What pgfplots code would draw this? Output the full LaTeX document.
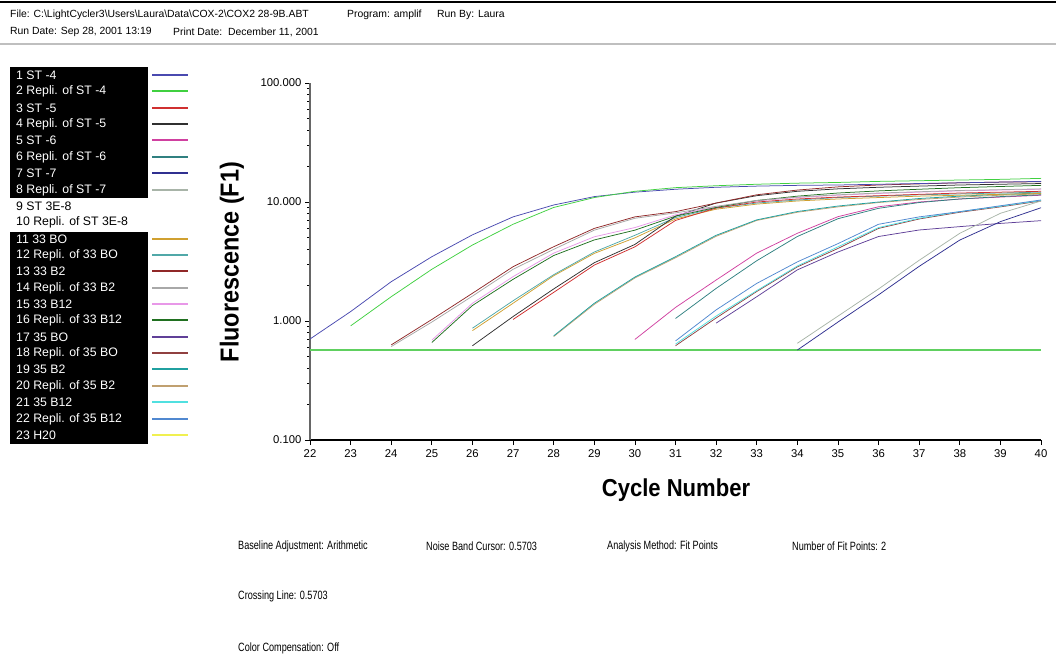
\documentclass[border=0pt]{standalone}
\usepackage{pgfplots}
\pgfplotsset{compat=1.18}
\usepackage{fontspec}
\setmainfont{Liberation Sans}
\newfontfamily\narrowfont[FakeStretch=0.76]{Liberation Sans}
\newfontfamily\labelfont[FakeStretch=0.9]{Liberation Sans}

% run colours
\definecolor{runA}{HTML}{4A4AB0}
\definecolor{runB}{HTML}{40D040}
\definecolor{runC}{HTML}{D03030}
\definecolor{runD}{HTML}{303030}
\definecolor{runE}{HTML}{D040A0}
\definecolor{runF}{HTML}{308080}
\definecolor{runG}{HTML}{303090}
\definecolor{runH}{HTML}{A8B4A8}
\definecolor{runK}{HTML}{D0A030}
\definecolor{runL}{HTML}{50A8A8}
\definecolor{runM}{HTML}{902828}
\definecolor{runN}{HTML}{A8A8A8}
\definecolor{runO}{HTML}{E898E8}
\definecolor{runP}{HTML}{207020}
\definecolor{runQ}{HTML}{604098}
\definecolor{runR}{HTML}{904040}
\definecolor{runS}{HTML}{20A0A0}
\definecolor{runT}{HTML}{C0A070}
\definecolor{runU}{HTML}{50E0E0}
\definecolor{runV}{HTML}{5088D0}
\definecolor{runW}{HTML}{F0F050}
\definecolor{runThr}{HTML}{60D060}

% legend row: vertical position, label, line colour
\newcommand{\legitem}[3]{%
  \node[anchor=west,inner sep=0pt,text=white,font=\fontsize{12.3}{14}\selectfont] at (16,#1) {#2};
  \fill[fill=#3] (152,#1-1) rectangle (188,#1+1);}
\newcommand{\legplain}[2]{%
  \node[anchor=west,inner sep=0pt,font=\fontsize{12.3}{14}\selectfont] at (16,#1) {#2};}

\begin{document}
\begin{tikzpicture}
\begin{scope}[x=1pt,y=-1pt]
  \path[use as bounding box] (0,0) rectangle (1056,657);
  % header
  \draw[black,line width=2.5pt] (0,2) -- (1056,2);
  \draw[black!25,line width=1.5pt] (0,44) -- (1056,44);
  \begin{scope}[every node/.style={anchor=west,inner sep=0pt,font=\fontsize{10.4}{12}\selectfont}]
    \node at (10,15) {File: C:\textbackslash LightCycler3\textbackslash Users\textbackslash Laura\textbackslash Data\textbackslash COX-2\textbackslash COX2 28-9B.ABT};
    \node at (347,15) {Program: amplif};
    \node at (437,15) {Run By: Laura};
    \node at (10,32) {Run Date: Sep 28, 2001 13:19};
    \node at (173,32) {Print Date:\ \ December 11, 2001};
  \end{scope}
  % legend
  \fill[black] (10,67) rectangle (148,198);
  \fill[black] (10,232) rectangle (148,444);
  \legitem{75}{1 ST -4}{runA}
  \legitem{91}{2 Repli. of ST -4}{runB}
  \legitem{108}{3 ST -5}{runC}
  \legitem{124}{4 Repli. of ST -5}{runD}
  \legitem{140}{5 ST -6}{runE}
  \legitem{157}{6 Repli. of ST -6}{runF}
  \legitem{173}{7 ST -7}{runG}
  \legitem{190}{8 Repli. of ST -7}{runH}
  \legplain{206}{9 ST 3E-8}
  \legplain{222}{10 Repli. of ST 3E-8}
  \legitem{239}{11 33 BO}{runK}
  \legitem{255}{12 Repli. of 33 BO}{runL}
  \legitem{271}{13 33 B2}{runM}
  \legitem{288}{14 Repli. of 33 B2}{runN}
  \legitem{304}{15 33 B12}{runO}
  \legitem{320}{16 Repli. of 33 B12}{runP}
  \legitem{337}{17 35 BO}{runQ}
  \legitem{353}{18 Repli. of 35 BO}{runR}
  \legitem{369}{19 35 B2}{runS}
  \legitem{386}{20 Repli. of 35 B2}{runT}
  \legitem{402}{21 35 B12}{runU}
  \legitem{419}{22 Repli. of 35 B12}{runV}
  \legitem{435}{23 H20}{runW}
  % analysis settings
  \begin{scope}[every node/.style={anchor=west,inner sep=0pt,font=\narrowfont\fontsize{12}{14}\selectfont}]
    \node at (238,546) {Baseline Adjustment: Arithmetic};
    \node at (426,546) {Noise Band Cursor: 0.5703};
    \node at (607,546) {Analysis Method: Fit Points};
    \node at (792,546) {Number of Fit Points: 2};
    \node at (238,596) {Crossing Line: 0.5703};
    \node at (238,648) {Color Compensation: Off};
  \end{scope}
\end{scope}

\begin{axis}[
  at={(310pt,-440pt)}, anchor=south west,
  scale only axis, width=731pt, height=357pt,
  xmin=22, xmax=40, ymode=log, ymin=0.1, ymax=100,
  axis lines*=left, axis line style={-},
  separate axis lines,
  x axis line style={black,line width=1.2pt},
  y axis line style={black!60,line width=1.6pt},
  xtick={22,23,...,40},
  ytick={0.1,1,10,100}, yticklabels={0.100,1.000,10.000,100.000},
  minor ytick={},
  tick align=outside, major tick length=5pt,
  every tick/.style={black,line width=0.7pt},
  /pgf/number format/assume math mode=true,
  tick label style={font=\fontsize{11.3}{12}\selectfont},
  xticklabel style={yshift=-1.5pt},
  xlabel={Cycle Number}, ylabel={Fluorescence (F1)},
  xlabel style={at={(axis description cs:0.5007,-0.14)},anchor=center,
    font=\labelfont\bfseries\fontsize{24.5}{27}\selectfont},
  ylabel style={at={(axis description cs:-0.1067,0.4986)},anchor=center,rotate=0,
    font=\labelfont\bfseries\fontsize{26}{28}\selectfont},
  every axis plot/.append style={line width=0.75pt, no markers},
]
% crossing line
\addplot[runThr,line width=1.6pt] coordinates {(22,0.5703) (40,0.5703)};
% 35 B2
\addplot[runT] coordinates {(28,0.74)(29,1.38)(30,2.30)(31,3.40)(32,5.15)(33,7.00)(34,8.20)(35,9.10)(36,9.90)(37,10.5)(38,11.0)(39,11.4)(40,11.7)};
\addplot[runS] coordinates {(28,0.75)(29,1.41)(30,2.34)(31,3.47)(32,5.25)(33,7.08)(34,8.32)(35,9.25)(36,10.0)(37,10.7)(38,11.2)(39,11.6)(40,11.9)};
% 35 BO
\addplot[runQ] coordinates {(32,0.96)(33,1.60)(34,2.69)(35,3.80)(36,5.13)(37,5.82)(38,6.21)(39,6.61)(40,6.97)};
\addplot[runR] coordinates {(31,0.62)(32,1.06)(33,1.77)(34,2.85)(35,4.07)(36,6.00)(37,7.20)(38,8.20)(39,9.10)(40,10.2)};
% 35 B12
\addplot[runU] coordinates {(31,0.64)(32,1.10)(33,1.80)(34,2.90)(35,4.20)(36,6.10)(37,7.30)(38,8.30)(39,9.20)(40,10.3)};
\addplot[runV] coordinates {(31,0.68)(32,1.24)(33,2.07)(34,3.14)(35,4.47)(36,6.50)(37,7.50)(38,8.30)(39,9.30)(40,10.4)};
% ST-7
\addplot[runH] coordinates {(34,0.65)(35,1.10)(36,1.86)(37,3.24)(38,5.46)(39,8.04)(40,10.2)};
\addplot[runG] coordinates {(34,0.57)(35,0.98)(36,1.66)(37,2.88)(38,4.79)(39,6.84)(40,8.95)};
% ST-6
\addplot[runE] coordinates {(30,0.70)(31,1.30)(32,2.21)(33,3.72)(34,5.46)(35,7.53)(36,9.12)(37,10.0)(38,10.6)(39,11.0)(40,11.4)};
\addplot[runF] coordinates {(31,1.05)(32,1.88)(33,3.21)(34,5.13)(35,7.24)(36,8.85)(37,9.90)(38,10.6)(39,11.1)(40,11.5)};
% 33 BO
\addplot[runK] coordinates {(26,0.83)(27,1.41)(28,2.40)(29,3.70)(30,5.00)(31,7.20)(32,8.70)(33,9.60)(34,10.2)(35,10.6)(36,10.9)(37,11.2)(38,11.4)(39,11.6)(40,11.8)};
\addplot[runL] coordinates {(26,0.87)(27,1.48)(28,2.45)(29,3.80)(30,5.25)(31,7.40)(32,8.90)(33,9.80)(34,10.4)(35,10.9)(36,11.2)(37,11.5)(38,11.7)(39,11.9)(40,12.1)};
% ST-5
\addplot[runC] coordinates {(27,1.03)(28,1.74)(29,2.95)(30,4.20)(31,7.00)(32,8.90)(33,10.0)(34,10.6)(35,11.0)(36,11.3)(37,11.6)(38,11.9)(39,12.1)(40,12.3)};
\addplot[runD] coordinates {(26,0.62)(27,1.09)(28,1.86)(29,3.09)(30,4.40)(31,7.60)(32,9.80)(33,11.3)(34,12.3)(35,12.9)(36,13.3)(37,13.6)(38,13.9)(39,14.1)(40,14.3)};
% 33 B12
\addplot[runO] coordinates {(25,0.69)(26,1.41)(27,2.36)(28,3.72)(29,5.10)(30,6.10)(31,7.80)(32,9.10)(33,10.2)(34,10.9)(35,11.4)(36,11.8)(37,12.1)(38,12.4)(39,12.6)(40,12.8)};
\addplot[runP] coordinates {(25,0.66)(26,1.35)(27,2.24)(28,3.55)(29,4.80)(30,5.80)(31,7.60)(32,9.00)(33,10.3)(34,11.2)(35,11.9)(36,12.4)(37,12.8)(38,13.2)(39,13.5)(40,13.8)};
% 33 B2
\addplot[runN] coordinates {(24,0.61)(25,0.98)(26,1.62)(27,2.72)(28,4.00)(29,5.80)(30,7.30)(31,8.10)(32,9.20)(33,10.3)(34,11.0)(35,11.5)(36,11.9)(37,12.2)(38,12.5)(39,12.7)(40,12.9)};
\addplot[runM] coordinates {(24,0.63)(25,1.03)(26,1.71)(27,2.86)(28,4.21)(29,6.00)(30,7.50)(31,8.30)(32,9.80)(33,11.5)(34,12.6)(35,13.4)(36,13.9)(37,14.2)(38,14.5)(39,14.7)(40,14.8)};
% ST-4
\addplot[runA] coordinates {(22,0.706)(23,1.20)(24,2.14)(25,3.47)(26,5.30)(27,7.50)(28,9.44)(29,11.1)(30,12.1)(31,12.8)(32,13.3)(33,13.6)(34,13.8)(35,13.9)(36,14.1)(37,14.3)(38,14.5)(39,14.7)(40,14.9)};
\addplot[runB] coordinates {(23,0.91)(24,1.60)(25,2.72)(26,4.35)(27,6.50)(28,9.00)(29,10.9)(30,12.3)(31,13.2)(32,13.7)(33,14.1)(34,14.4)(35,14.6)(36,14.9)(37,15.1)(38,15.3)(39,15.5)(40,15.8)};
\end{axis}
\end{tikzpicture}
\end{document}
